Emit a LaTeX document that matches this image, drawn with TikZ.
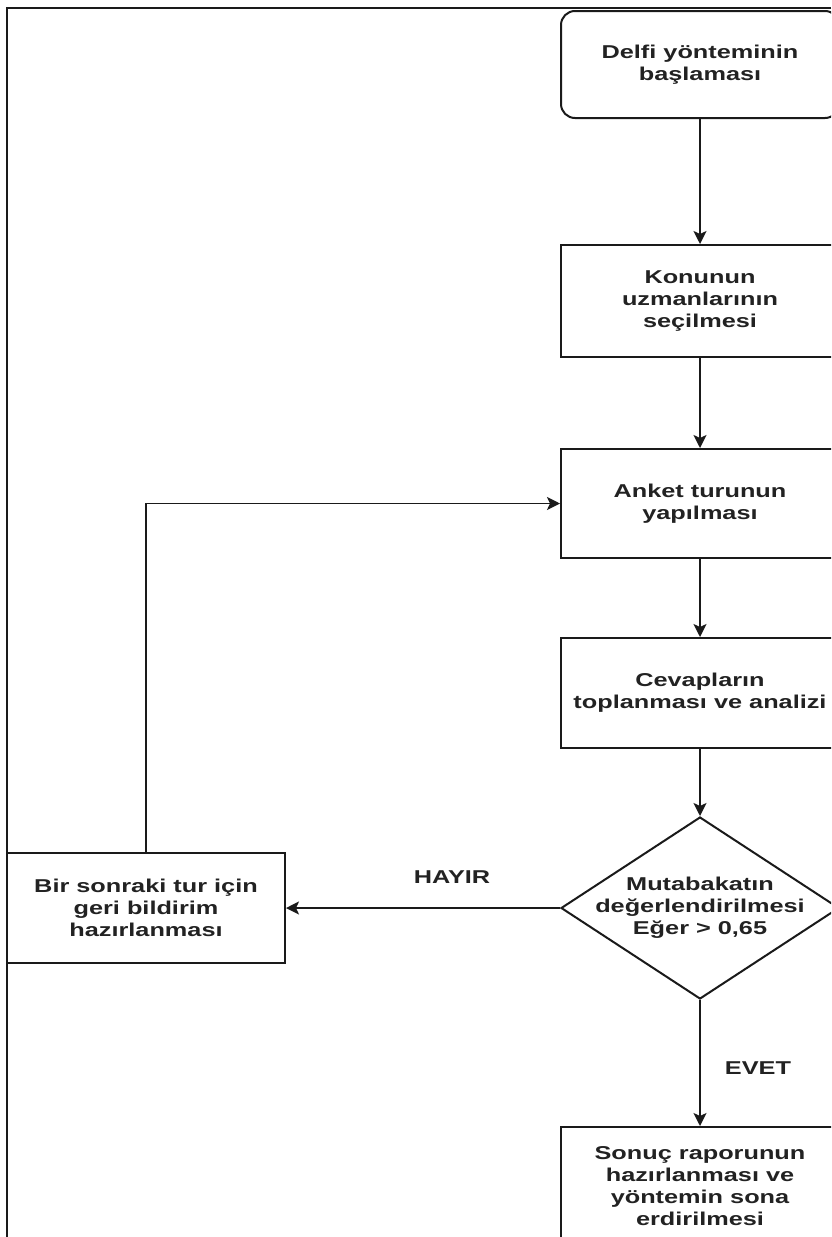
\documentclass[tikz,border=0pt]{standalone}
\usepackage{fontspec}
\setmainfont{Liberation Sans}[FakeStretch=1.36]
\usetikzlibrary{arrows.meta,shapes.geometric}
\definecolor{txt}{HTML}{222222}
\definecolor{ink}{HTML}{1A1A1A}
\begin{document}
\begin{tikzpicture}[x=1pt,y=-1pt,
  lbl/.style={font=\bfseries\fontsize{18.6}{22}\selectfont, text=txt, align=center},
  box/.style={lbl, draw=ink, line width=2pt, minimum width=278pt, minimum height=110pt, inner sep=0pt},
  startbox/.style={box, rounded corners=14pt, minimum height=107pt},
  decision/.style={draw=ink, line width=2pt, shape=diamond, inner sep=0pt, minimum width=278pt, minimum height=182pt},
  flow/.style={draw=ink, line width=1.8pt, -{Stealth[length=13pt,width=13pt,inset=3pt]}},
]
\useasboundingbox (0,0) rectangle (831,1237);
\clip (0,0) rectangle (831,1237);

% outer frame
\draw[ink, line width=2.8pt, line join=miter] (831,8) -- (7,8) -- (7,1237);

% process steps
\node[startbox] (start) at (700,64.5) {Delfi yönteminin\\başlaması};
\node[box, minimum height=112pt] (experts) at (700,301) {Konunun\\uzmanlarının\\seçilmesi};
\node[box, minimum height=109pt] (survey) at (700,503.5) {Anket turunun\\yapılması};
\node[box] (analysis) at (700,693) {Cevapların\\toplanması ve analizi};
\node[decision] (check) at (700,908) {};
\node[lbl] (checktext) at (check.center) {Mutabakatın\\değerlendirilmesi\\Eğer > 0,65};
\node[box] (feedback) at (146,908) {Bir sonraki tur için\\geri bildirim\\hazırlanması};
\node[box, minimum height=118pt] (report) at (700,1186) {Sonuç raporunun\\hazırlanması ve\\yöntemin sona\\erdirilmesi};

% connectors
\draw[flow] (start) -- (experts);
\draw[flow] (experts) -- (survey);
\draw[flow] (survey) -- (analysis);
\draw[flow] (analysis) -- (check);
\draw[flow] (check.west) -- (feedback.east);
\draw[flow] (feedback.north) |- (survey.west);
\draw[flow] (check.south) -- (report.north);

% branch labels
\node[lbl] (no) at (452,877) {HAYIR};
\node[lbl] (yes) at (758,1068) {EVET};
\end{tikzpicture}
\end{document}
